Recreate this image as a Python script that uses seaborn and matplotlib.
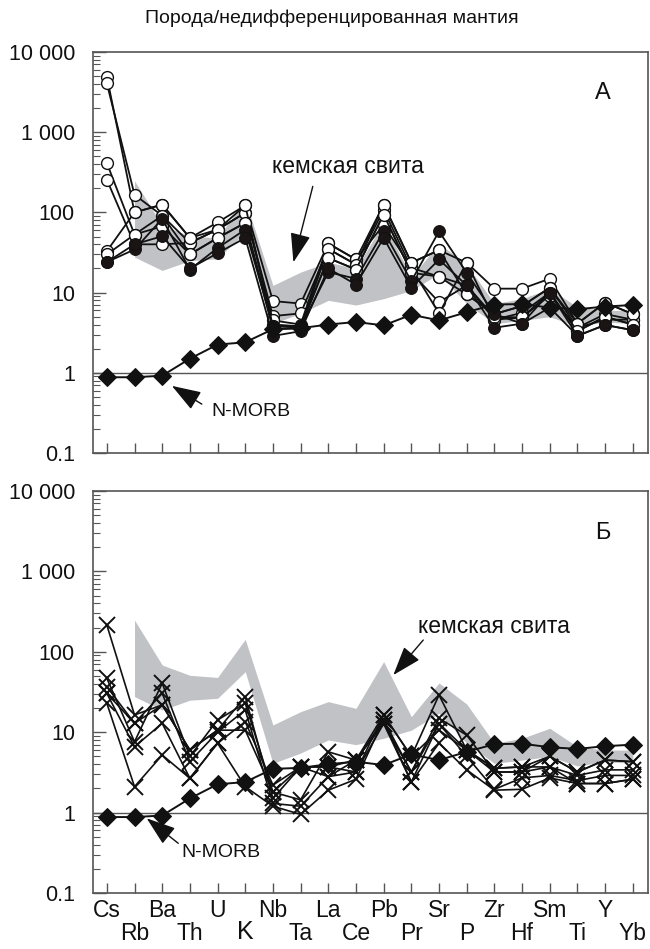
import numpy as np
import pandas as pd
import matplotlib
matplotlib.use("Agg")
import matplotlib.pyplot as plt
import seaborn as sns
from matplotlib.ticker import FixedLocator, FixedFormatter, NullFormatter

# ---------------- data ----------------
elements = ["Cs", "Rb", "Ba", "Th", "U", "K", "Nb", "Ta", "La", "Ce",
            "Pb", "Pr", "Sr", "P", "Zr", "Hf", "Sm", "Ti", "Y", "Yb"]

nmorb = [0.88, 0.88, 0.92, 1.5, 2.25, 2.4, 3.5, 3.6, 4.0, 4.3,
         3.9, 5.3, 4.5, 5.7, 7.1, 7.2, 6.5, 6.2, 6.7, 7.0]

# кемская свита field (Rb ... Yb)
band_elements = elements[1:]
band_upper = [248, 68.5, 51, 48, 143, 12.3, 18, 24, 19.8, 75.5,
              15.6, 41, 22.4, 7.3, 8.4, 11.2, 6.6, 6.0, 6.0]
band_lower = [27.7, 18.9, 25, 26.4, 56.6, 4.1, 5.5, 8.0, 7.0, 8.4,
              10.6, 17.2, 7.3, 4.1, 4.5, 5.0, 3.8, 4.3, 4.1]

# panel A, open circles
a_open_1 = [4930, 100, 125, 48, 75, 122, 7.85, 7.3, 41, 25.9, 125, 23.6, 33.8, 23.6, 11.2, 11.2, 14.9, 4.1, 7.5, 5.4]
a_open_2 = [4070, 166, 91, 41.7, 61, 99, 5.1, 5.5, 35, 22.4, 108, 20.4, 15.8, 9.5, 5.4, 6.8, 11.5, 3.65, 5.4, 4.6]
a_open_3 = [412, 53, 67, 30, 48, 74, 4.0, 3.8, 27, 19.4, 94, 17.7, 7.6, 12.3, 4.6, 5.6, 10, 3.3, 5.0, 4.0]
a_open_4 = [256, 40, 40, 41.7, 61, 99, 4.5, 4.0, 41, 25.9, 70, 20.4, 5.5, 23.6, 4.6, 4.9, 9.2, 3.65, 4.6, 4.6]
a_open_5 = [32.9, 100, 125, 48, 61, 122, 3.8, 3.8, 35, 22.4, 125, 23.6, 33.8, 9.5, 5.4, 6.8, 11.5, 4.1, 7.5, 5.4]
a_open_6 = [29.9, 53, 91, 30, 48, 74, 3.5, 3.6, 27, 19.4, 94, 17.7, 15.8, 12.3, 5.0, 4.9, 10, 3.3, 5.0, 4.0]
# panel A, filled circles
a_fill_1 = [24, 34.5, 83, 19.4, 36, 61, 3.83, 3.65, 18, 14.9, 58, 13.9, 58, 17.7, 5.4, 4.1, 10, 2.88, 3.95, 3.4]
a_fill_2 = [24, 40, 50.5, 20, 31, 48, 2.88, 3.3, 20, 12.6, 48, 11.5, 25.9, 12.3, 3.65, 4.1, 6.5, 2.9, 3.95, 3.4]

# panel Б, crosses
b_x_1 = [215, 16.4, 21.8, 6.0, 10.6, 27.6, 1.5, 3.7, 3.7, 4.5, 16.4, 5.0, 29, 6.0, 3.56, 3.7, 5.0, 3.2, 4.5, 4.3]
b_x_2 = [46.8, 7.6, 40.6, 5.0, 14.2, 22.9, 1.8, 1.44, 5.7, 4.5, 14.2, 3.2, 14.9, 9.2, 3.2, 3.2, 3.7, 2.9, 3.4, 3.4]
b_x_3 = [36.8, 12.9, 30.4, 4.3, 10.0, 18.9, 1.3, 1.2, 2.8, 3.2, 12.8, 2.4, 12.8, 5.0, 1.95, 2.7, 2.9, 2.5, 2.9, 2.9]
b_x_4 = [30.4, 6.6, 12.9, 2.67, 7.3, 13.5, 2.2, 3.7, 3.7, 3.2, 16.4, 5.0, 10.6, 6.0, 3.56, 3.7, 3.7, 2.3, 2.3, 2.6]
b_x_5 = [22.9, 2.1, 5.2, 2.67, 7.3, 2.1, 1.2, 0.95, 1.9, 2.6, 14.2, 2.4, 7.3, 3.4, 1.9, 1.95, 2.7, 2.3, 2.3, 2.6]
b_x_6 = [30.4, 12.9, 21.8, 6.0, 10.6, 10.6, 1.8, 3.7, 2.8, 4.5, 12.8, 3.2, 12.8, 6.0, 3.2, 3.2, 5.0, 3.2, 4.5, 4.3]

y_ticks = [0.1, 1, 10, 100, 1000, 10000]
y_tick_labels = ["0.1", "1", "10", "100", "1 000", "10 000"]

title = "Порода/недифференцированная мантия"
field_label = "кемская свита"
ref_label = "N-MORB"

# ---------------- helpers ----------------
pos = {e: i for i, e in enumerate(elements)}


def long_df(series):
    rows = []
    for name, vals in series.items():
        for e, v in zip(elements, vals):
            rows.append({"sample": name, "element": e, "pos": pos[e], "value": v})
    return pd.DataFrame(rows)


sns.set_theme(style="ticks")
plt.rcParams["font.family"] = ["Liberation Sans", "DejaVu Sans"]

INK = "#111111"
fig = plt.figure(figsize=(6.5, 9.49), dpi=100)
W, H = 650, 949
left, right = 93, 648
axA = fig.add_axes([left / W, 1 - 453 / H, (right - left) / W, (453 - 52) / H])
axB = fig.add_axes([left / W, 1 - 893 / H, (right - left) / W, (893 - 491) / H])

band_df = pd.DataFrame({"pos": [pos[e] for e in band_elements],
                        "lo": band_lower, "hi": band_upper})
nm_df = pd.DataFrame({"sample": "N-MORB", "pos": list(range(len(elements))), "value": nmorb})

dfA_open = long_df({"o1": a_open_1, "o2": a_open_2, "o3": a_open_3,
                    "o4": a_open_4, "o5": a_open_5, "o6": a_open_6})
dfA_fill = long_df({"f1": a_fill_1, "f2": a_fill_2})
dfB = long_df({"x1": b_x_1, "x2": b_x_2, "x3": b_x_3,
               "x4": b_x_4, "x5": b_x_5, "x6": b_x_6})

for ax in (axA, axB):
    ax.set_yscale("log")
    ax.set_ylim(0.1, 10000)
    ax.set_xlim(-0.5, 19.55)
    ax.fill_between(band_df["pos"], band_df["lo"], band_df["hi"],
                    color="#c1c2c6", lw=0, zorder=1)
    ax.axhline(1, color="#555555", lw=1.0, zorder=0.8)

# Panel A samples
sns.lineplot(data=dfA_open, x="pos", y="value", units="sample", estimator=None,
             sort=False, color=INK, lw=1.3, marker="o", markersize=8.5,
             markerfacecolor="white", markeredgecolor=INK, markeredgewidth=1.0,
             legend=False, ax=axA, zorder=3)
sns.lineplot(data=dfA_fill, x="pos", y="value", units="sample", estimator=None,
             sort=False, color=INK, lw=1.3, marker="o", markersize=8.5,
             markerfacecolor="#1a1414", markeredgecolor=INK,
             legend=False, ax=axA, zorder=3)
# Panel Б samples
sns.lineplot(data=dfB, x="pos", y="value", units="sample", estimator=None,
             sort=False, color=INK, lw=1.2, marker="x", markersize=11,
             markeredgecolor=INK, markeredgewidth=1.4, legend=False, ax=axB, zorder=3)

for ax in (axA, axB):
    sns.lineplot(data=nm_df, x="pos", y="value", sort=False, color=INK,
                 lw=1.4, marker="D", markersize=9.5, markerfacecolor=INK,
                 markeredgecolor=INK, legend=False, ax=ax, zorder=4)

# axes cosmetics
for ax in (axA, axB):
    ax.set_xlabel("")
    ax.set_ylabel("")
    for s in ax.spines.values():
        s.set_color("#555555")
        s.set_linewidth(1.2)
    ax.yaxis.set_major_locator(FixedLocator(y_ticks))
    ax.yaxis.set_major_formatter(FixedFormatter(y_tick_labels))
    minors = [m * 10.0 ** k for k in range(-1, 4) for m in range(2, 10)]
    ax.yaxis.set_minor_locator(FixedLocator(minors))
    ax.yaxis.set_minor_formatter(NullFormatter())
    ax.tick_params(axis="y", which="major", direction="in", length=9, width=1,
                   color="#555555", labelsize=15.5, pad=13, labelcolor=INK)
    ax.tick_params(axis="y", which="minor", direction="in", length=5, width=0.8,
                   color="#555555")
    ax.xaxis.set_major_locator(FixedLocator(list(range(len(elements)))))
    ax.tick_params(axis="x", which="major", direction="in", length=7, width=1,
                   color="#555555", labelsize=16.5, pad=4, labelcolor=INK)
    ax.tick_params(axis="x", which="minor", bottom=False)

axA.set_xticklabels([])
xlabels = axB.set_xticklabels([e if i % 2 == 0 else "\n" + e for i, e in enumerate(elements)],
                              linespacing=1.05)
# the "K" label sits a little higher and larger in the original
for lab in xlabels:
    if lab.get_text() == "\nK":
        lab.set_fontsize(18)
        lab.set_linespacing(0.85)

# annotations
arrow_kw = dict(arrowstyle="-|>,head_length=1.3,head_width=0.45", color=INK,
                lw=1.0, shrinkA=0, shrinkB=0, mutation_scale=14)

axA.text(17.92, 3090, "А", fontsize=17, ha="center", va="center", color=INK)
axA.text(8.71, 374, field_label, fontsize=16.5, ha="center", va="center", color=INK)
axA.annotate("", xy=(6.74, 23.9), xytext=(7.44, 211), arrowprops=arrow_kw, zorder=5)
axA.text(5.21, 0.333, ref_label, fontsize=14, ha="center", va="center", color=INK)
axA.annotate("", xy=(2.35, 0.687), xytext=(3.43, 0.407), arrowprops=arrow_kw, zorder=5)

axB.text(17.92, 3005, "Б", fontsize=17, ha="center", va="center", color=INK)
axB.text(13.98, 205, field_label, fontsize=16.5, ha="center", va="center", color=INK)
axB.annotate("", xy=(10.35, 51.4), xytext=(11.43, 140), arrowprops=arrow_kw, zorder=5)
axB.text(4.13, 0.317, ref_label, fontsize=14, ha="center", va="center", color=INK)
axB.annotate("", xy=(1.44, 0.849), xytext=(2.58, 0.415), arrowprops=arrow_kw, zorder=5)

fig.text(0.51, 1 - 18 / H, title, ha="center", va="center", fontsize=14, color=INK)

fig.savefig("out.png", dpi=100)
